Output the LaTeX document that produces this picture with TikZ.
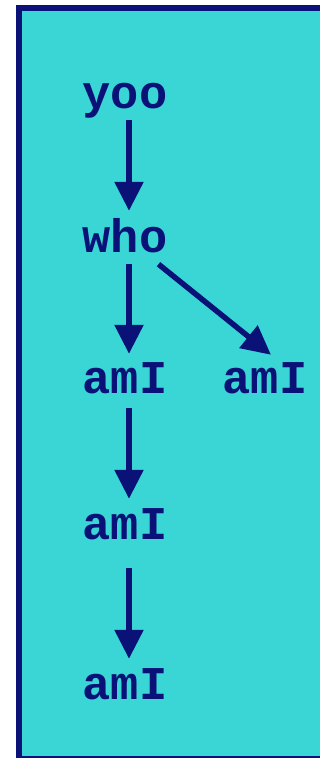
\documentclass[tikz,border=0pt]{standalone}
\usepackage{fontspec}
\newfontfamily\cour{Liberation Mono}
\usetikzlibrary{arrows.meta}
\definecolor{bgcyan}{RGB}{58,214,214}
\definecolor{navyc}{RGB}{10,18,120}
\begin{document}
\begin{tikzpicture}[x=1pt,y=1pt,
  lbl/.style={inner sep=0pt,text height=30pt,text depth=8pt,anchor=base,
    text=navyc,font=\cour\bfseries\fontsize{47}{50}\selectfont},
  arr/.style={draw=navyc,line width=5.5pt,-{Triangle[length=29pt,width=28pt]}}]
\useasboundingbox (0,0) rectangle (320,-758);
\clip (0,0) rectangle (320,-758);
\draw[fill=bgcyan,draw=navyc,line width=6pt] (19,-8) rectangle (326,-759);
\node[lbl] (yoo) at (125,-108) {yoo};
\node[lbl] (who) at (125,-252) {who};
\node[lbl] (amA) at (125,-393) {amI};
\node[lbl] (amB) at (265,-393) {amI};
\node[lbl] (amC) at (125,-539) {amI};
\node[lbl] (amD) at (125,-699) {amI};
\draw[arr,shorten <=4pt,shorten >=11pt] ([xshift=4pt]yoo.south) -- ([xshift=4pt]who.north);
\draw[arr,shorten <=4pt,shorten >=9pt] ([xshift=4pt]who.south) -- ([xshift=4pt]amA.north);
\draw[arr] ([shift={(-9pt,-4pt)}]who.south east) -- ([shift={(6pt,8pt)}]amB.north);
\draw[arr,shorten <=7pt,shorten >=10pt] ([xshift=4pt]amA.south) -- ([xshift=4pt]amC.north);
\draw[arr,shorten <=21pt,shorten >=10pt] ([xshift=4pt]amC.south) -- ([xshift=4pt]amD.north);
\end{tikzpicture}
\end{document}
